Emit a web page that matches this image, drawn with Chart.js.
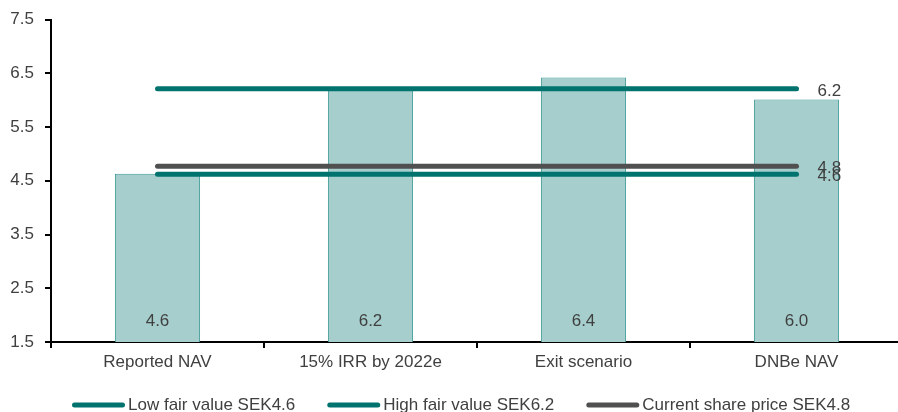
<!DOCTYPE html>
<html>
<head>
<meta charset="utf-8">
<script src="https://cdn.jsdelivr.net/npm/chart.js@4"></script>
<style>
  html, body { margin: 0; padding: 0; overflow: hidden; background: #fff; }
</style>
</head>
<body>
<canvas id="navChart" width="903" height="412"></canvas>
<script>
// values
const categories = ['Reported NAV', '15% IRR by 2022e', 'Exit scenario', 'DNBe NAV'];
const navValues = [4.63, 6.21, 6.42, 6.01];
const lowFairValue = [4.62, 4.62, 4.62, 4.62];
const highFairValue = [6.21, 6.21, 6.21, 6.21];
const sharePrice = [4.77, 4.77, 4.77, 4.77];
const yTicks = [1.5, 2.5, 3.5, 4.5, 5.5, 6.5, 7.5];

const TEAL = '#00736f';
const GREY = '#505050';
const TEXT = '#404040';
const FONT = 'Arial, "Liberation Sans", sans-serif';
const FONT_SIZE = 17;

// value labels: inside bottom of each bar, and at the right end of each line
const valueLabels = {
    id: 'valueLabels',
    afterDatasetsDraw(chart) {
        const ctx = chart.ctx;
        const yScale = chart.scales.y;
        ctx.save();
        ctx.font = FONT_SIZE + 'px ' + FONT;
        ctx.fillStyle = TEXT;
        ctx.textBaseline = 'middle';
        chart.data.datasets.forEach((ds, i) => {
            const meta = chart.getDatasetMeta(i);
            if (ds.type === 'bar') {
                ctx.textAlign = 'center';
                meta.data.forEach((bar, j) => {
                    ctx.fillText(ds.data[j].toFixed(1), bar.x, yScale.bottom - 21);
                });
            } else {
                const last = meta.data[meta.data.length - 1];
                ctx.textAlign = 'left';
                ctx.fillText(ds.data[ds.data.length - 1].toFixed(1), last.x + 21, last.y + 2);
            }
        });
        ctx.restore();
    }
};

// legend drawn by hand: the reference has a thick line marker right against the text
const lineLegend = {
    id: 'lineLegend',
    afterDraw(chart) {
        const ctx = chart.ctx;
        const y = chart.height - 7;
        let x = 72;
        ctx.save();
        ctx.font = FONT_SIZE + 'px ' + FONT;
        ctx.textBaseline = 'middle';
        ctx.textAlign = 'left';
        chart.data.datasets.forEach(ds => {
            if (ds.type !== 'line') return;
            ctx.strokeStyle = ds.borderColor;
            ctx.lineWidth = 5;
            ctx.lineCap = 'round';
            ctx.beginPath();
            ctx.moveTo(x + 2.5, y);
            ctx.lineTo(x + 50.5, y);
            ctx.stroke();
            ctx.fillStyle = TEXT;
            ctx.fillText(ds.label, x + 56, y);
            x += 56 + ctx.measureText(ds.label).width + 32;
        });
        ctx.restore();
    }
};

function lineSet(label, data, color, order) {
    return {
        type: 'line',
        label: label,
        data: data,
        borderColor: color,
        backgroundColor: color,
        borderWidth: 5,
        borderCapStyle: 'round',
        pointRadius: 0,
        fill: false,
        order: order
    };
}

new Chart(document.getElementById('navChart'), {
    data: {
        labels: categories,
        datasets: [
            {
                type: 'bar',
                label: 'NAV',
                data: navValues,
                backgroundColor: '#a6cecd',
                borderColor: '#3a9894',
                borderWidth: 1,
                barPercentage: 0.4,
                categoryPercentage: 1,
                order: 10
            },
            lineSet('Low fair value SEK4.6', lowFairValue, TEAL, 3),
            lineSet('High fair value SEK6.2', highFairValue, TEAL, 2),
            lineSet('Current share price SEK4.8', sharePrice, GREY, 1)
        ]
    },
    options: {
        responsive: false,
        animation: false,
        layout: { padding: { top: 19, left: 0, right: 0, bottom: 39 } },
        scales: {
            x: {
                offset: true,
                grid: { display: true, offset: true, drawOnChartArea: false, tickLength: 6, color: '#000', lineWidth: 2 },
                border: { color: '#000', width: 2 },
                ticks: { color: TEXT, font: { size: FONT_SIZE, family: FONT }, padding: 4, maxRotation: 0 },
                afterFit(scale) { scale.height = 31; }
            },
            y: {
                min: 1.5,
                max: 7.5,
                afterBuildTicks(scale) { scale.ticks = yTicks.map(v => ({ value: v })); },
                grid: { display: true, drawOnChartArea: false, tickLength: 6, color: '#000', lineWidth: 2 },
                border: { color: '#000', width: 2 },
                ticks: { color: TEXT, font: { size: FONT_SIZE, family: FONT, lineHeight: 1 }, padding: 11, callback: v => Number(v).toFixed(1) },
                afterFit(scale) { scale.width = 51; }
            }
        },
        plugins: {
            tooltip: { enabled: false },
            legend: { display: false }
        }
    },
    plugins: [valueLabels, lineLegend]
});
</script>
</body>
</html>
